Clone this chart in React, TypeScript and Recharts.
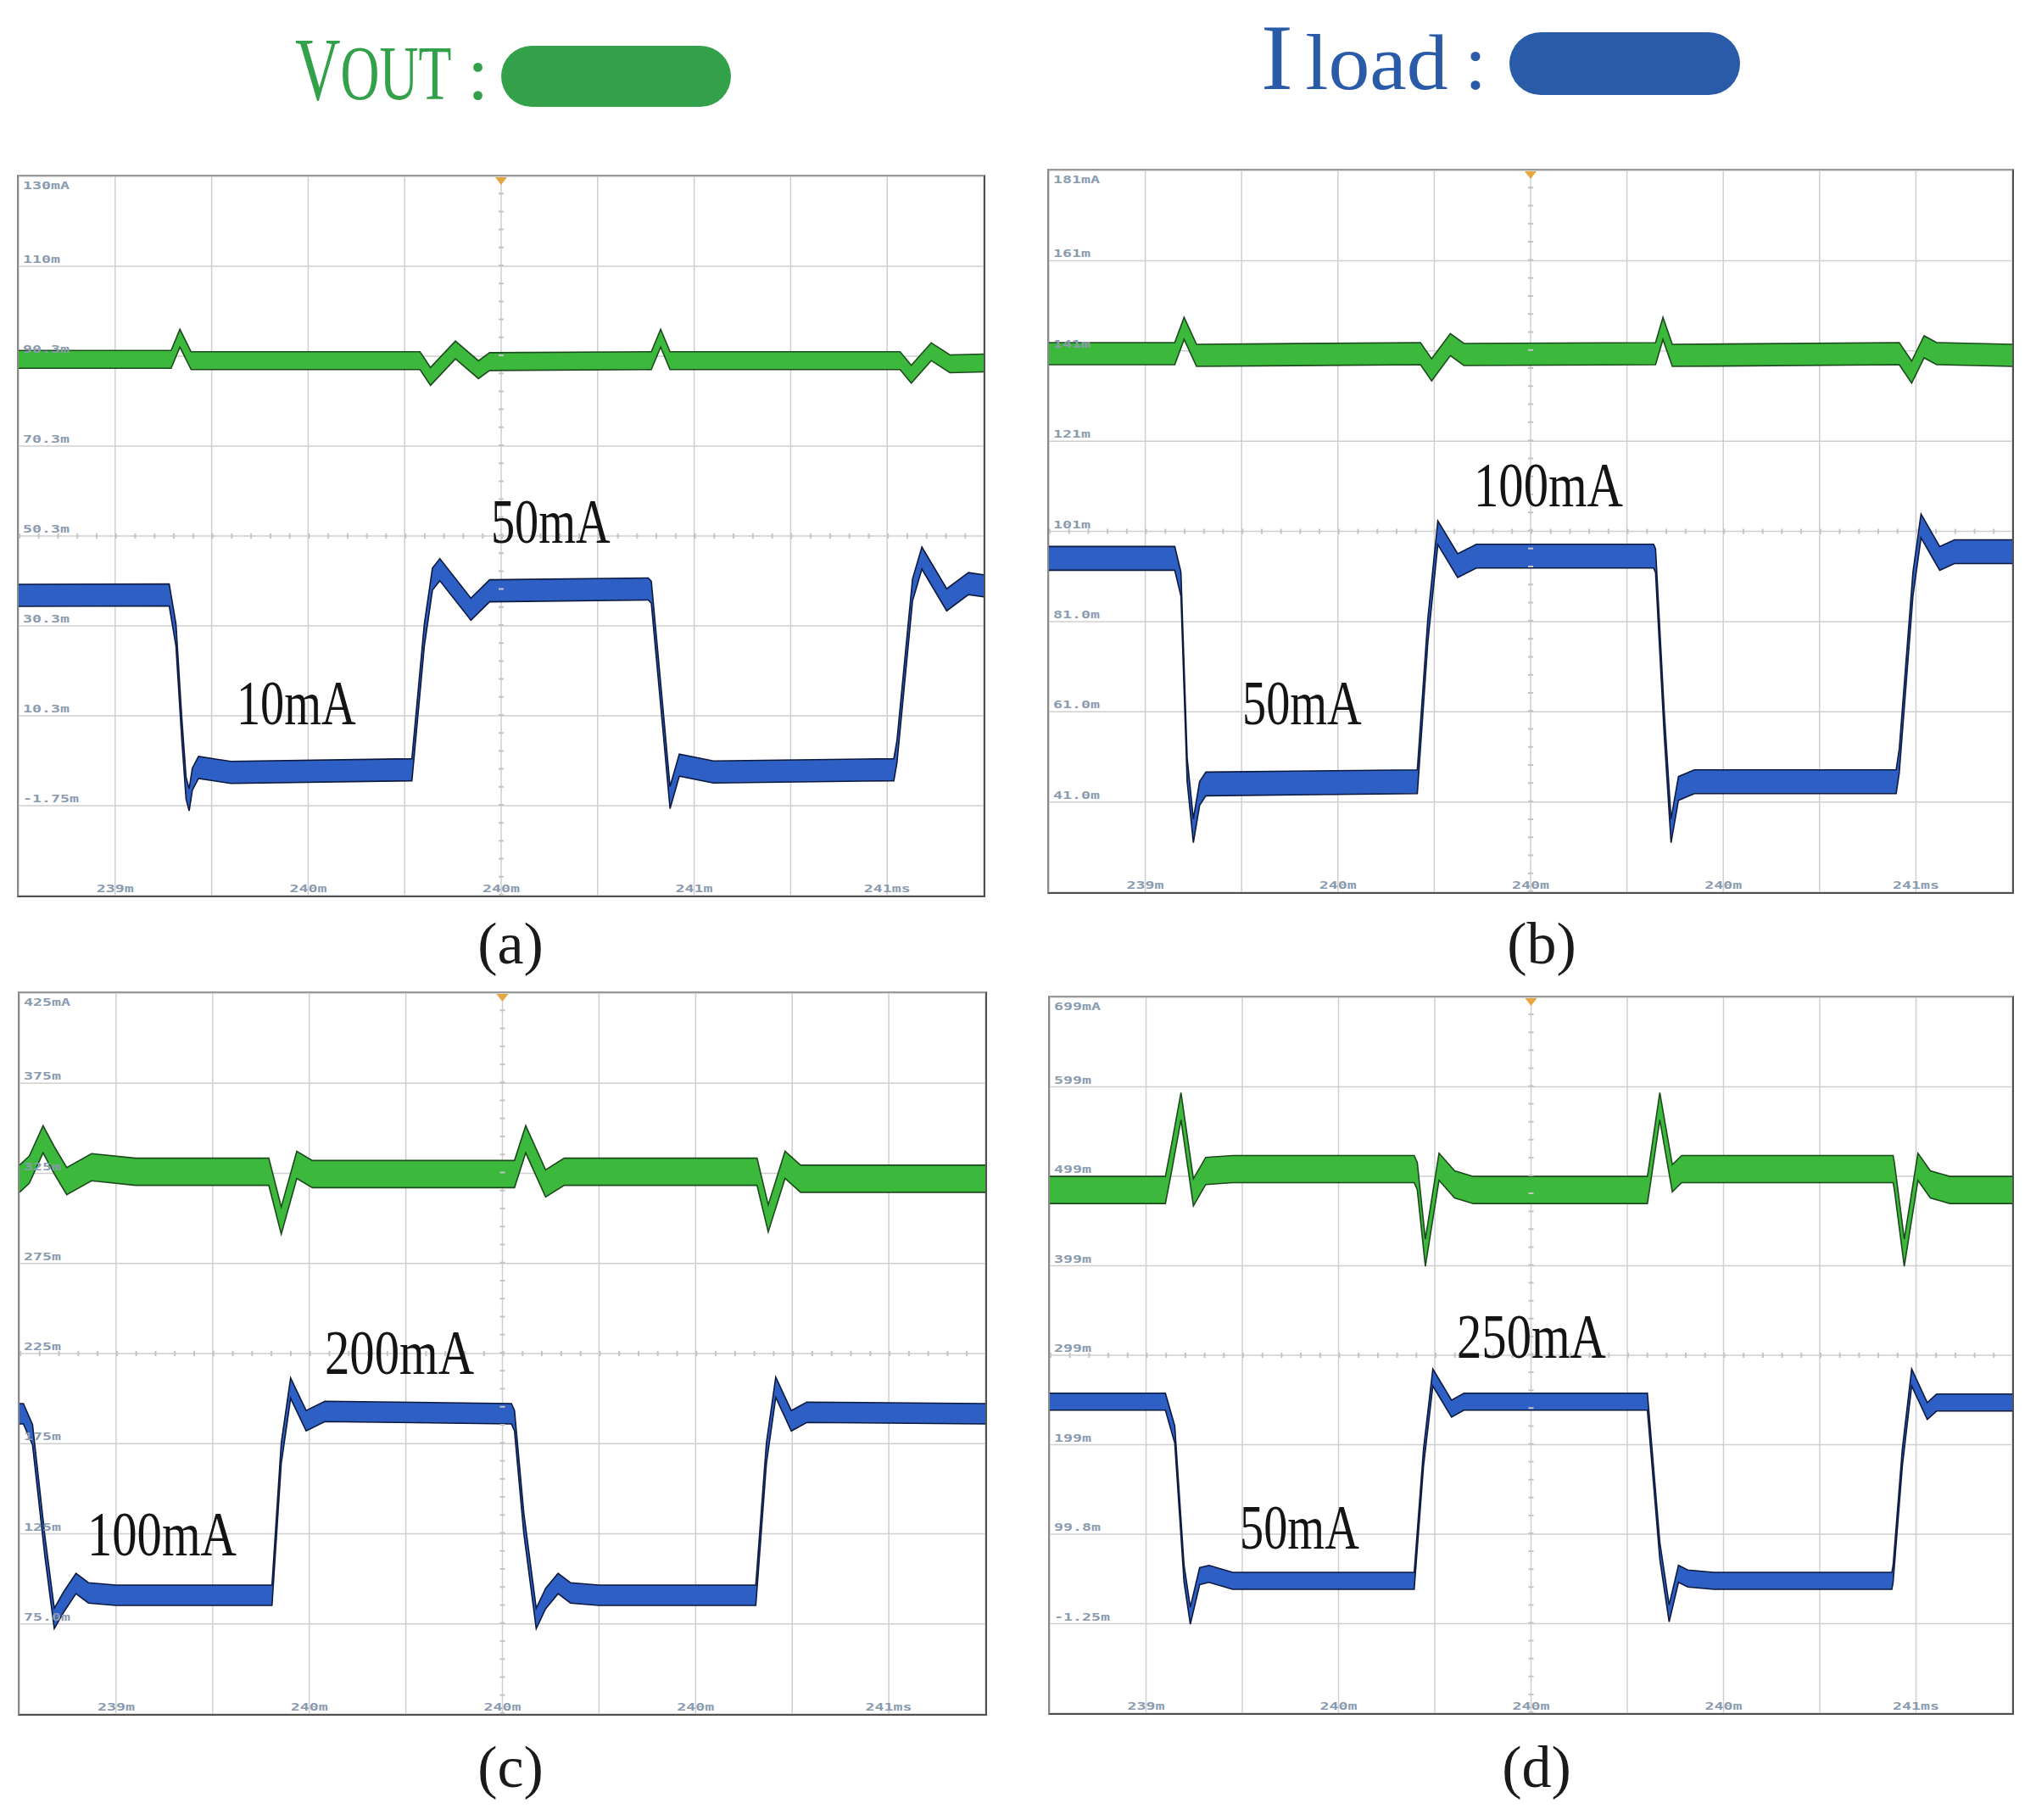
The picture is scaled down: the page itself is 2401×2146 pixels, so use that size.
import React from 'react';
import { ComposedChart, Area, XAxis, YAxis, CartesianGrid, ReferenceLine, ReferenceDot } from 'recharts';

type Pt = [number, number];
type Note = { label: string; t: number; v: number };

// time axis in scope divisions
const xTicks = [0, 1, 2, 3, 4, 5, 6, 7, 8, 9, 10];
const xLabelTicks = [1, 3, 5, 7, 9];

// ---------- Panel (a) ----------
const yTicksA = [130, 110, 90, 70, 50, 30, 10, -10, -30];
const yLabelsA = ['130mA', '110m', '90.3m', '70.3m', '50.3m', '30.3m', '10.3m', '-1.75m'];
const xLabelsA = ['239m', '240m', '240m', '241m', '241ms'];
const voutA: Pt[] = [
  [0, 89.3], [1.58, 89.3], [1.671, 94.0], [1.787, 89.0], [4.159, 89.0], [4.268, 85.5], [4.526, 91.4],
  [4.765, 87.0], [4.88, 88.8], [6.556, 89.0], [6.653, 94.0], [6.75, 89.0], [9.134, 89.0], [9.25, 86.0],
  [9.457, 91.0], [9.65, 88.3], [10, 88.5],
];
const iloadA: Pt[] = [
  [0, 36.8], [1.56, 36.9], [1.63, 28.0], [1.69, 7.3], [1.735, -6.1], [1.767, -8.7], [1.8, -4.1],
  [1.864, -1.5], [2.2, -2.6], [4.075, -2.0], [4.204, 28.0], [4.288, 40.4], [4.365, 42.5], [4.687, 33.7],
  [4.88, 37.8], [6.524, 38.2], [6.556, 37.5], [6.685, 7.3], [6.75, -8.2], [6.846, -1.0], [7.2, -2.5],
  [9.069, -2.0], [9.102, 2.1], [9.263, 38.0], [9.36, 45.1], [9.617, 35.8], [9.843, 39.4], [10, 38.9],
];
const notesA: Note[] = [
  { label: '50mA', t: 4.894, v: 48.5 },
  { label: '10mA', t: 2.258, v: 8.1 },
];

// ---------- Panel (b) ----------
const yTicksB = [181, 161, 141, 121, 101, 81, 61, 41, 21];
const yLabelsB = ['181mA', '161m', '141m', '121m', '101m', '81.0m', '61.0m', '41.0m'];
const xLabelsB = ['239m', '240m', '240m', '240m', '241ms'];
const voutB: Pt[] = [
  [0, 140.4], [1.306, 140.4], [1.403, 146.0], [1.532, 140.0], [3.857, 140.4], [3.973, 136.8],
  [4.167, 142.4], [4.308, 140.2], [6.297, 140.4], [6.374, 146.0], [6.471, 140.0], [8.827, 140.4],
  [8.956, 136.3], [9.085, 141.9], [9.215, 140.4], [10, 140.0],
];
const iloadB: Pt[] = [
  [0, 95.0], [1.306, 95.0], [1.37, 89.3], [1.435, 48.1], [1.499, 34.6], [1.564, 42.9], [1.629, 45.0],
  [3.824, 45.5], [3.933, 79.0], [4.037, 100.7], [4.243, 93.4], [4.437, 95.5], [6.277, 95.5],
  [6.297, 94.5], [6.387, 58.4], [6.458, 34.6], [6.535, 44.0], [6.7, 45.5], [8.795, 45.5], [8.827, 50.1],
  [8.969, 89.3], [9.053, 102.2], [9.247, 95.0], [9.4, 96.5], [10, 96.5],
];
const notesB: Note[] = [
  { label: '100mA', t: 4.41, v: 106.6 },
  { label: '50mA', t: 2.007, v: 58.3 },
];

// ---------- Panel (c) ----------
const yTicksC = [425, 375, 325, 275, 225, 175, 125, 75, 25];
const yLabelsC = ['425mA', '375m', '325m', '275m', '225m', '175m', '125m', '75.0m'];
const xLabelsC = ['239m', '240m', '240m', '240m', '241ms'];
const voutC: Pt[] = [
  [0, 322.0], [0.102, 327.1], [0.244, 343.9], [0.36, 332.3], [0.489, 320.7], [0.746, 328.4], [1.2, 325.9],
  [2.581, 325.9], [2.71, 298.8], [2.871, 329.7], [3.032, 324.6], [5.125, 324.6], [5.241, 343.9],
  [5.447, 319.4], [5.64, 325.9], [7.636, 325.9], [7.752, 300.0], [7.926, 329.7], [8.087, 322.0], [10, 322.0],
];
const iloadC: Pt[] = [
  [0, 191.6], [0.04, 191.6], [0.135, 180.0], [0.263, 118.0], [0.36, 78.0], [0.457, 87.1], [0.585, 97.4],
  [0.714, 92.2], [1.0, 90.9], [2.614, 90.9], [2.71, 169.7], [2.807, 205.8], [2.968, 187.7], [3.161, 192.9],
  [5.093, 191.6], [5.125, 187.7], [5.221, 131.0], [5.35, 78.0], [5.447, 89.0], [5.576, 97.4], [5.704, 92.2],
  [6.0, 90.9], [7.623, 90.9], [7.636, 100.0], [7.733, 169.7], [7.83, 206.3], [7.991, 187.7], [8.151, 192.4],
  [10, 191.6],
];
const notesC: Note[] = [
  { label: '200mA', t: 3.161, v: 213.7 },
  { label: '100mA', t: 0.702, v: 113 },
];

// ---------- Panel (d) ----------
const yTicksD = [699, 599, 499, 399, 299, 199, 99, -1, -101];
const yLabelsD = ['699mA', '599m', '499m', '399m', '299m', '199m', '99.8m', '-1.25m'];
const xLabelsD = ['239m', '240m', '240m', '240m', '241ms'];
const voutD: Pt[] = [
  [0, 483.7], [1.201, 483.7], [1.266, 520.0], [1.363, 577.3], [1.492, 481.1], [1.62, 505.0], [1.9, 507.1],
  [3.786, 507.1], [3.818, 499.3], [3.902, 413.5], [4.044, 509.7], [4.206, 490.0], [4.4, 483.7],
  [6.209, 483.7], [6.228, 496.7], [6.338, 577.3], [6.468, 496.7], [6.565, 507.1], [8.762, 507.1],
  [8.775, 499.3], [8.878, 413.5], [9.02, 509.7], [9.149, 490.0], [9.35, 483.7], [10, 483.7],
];
const iloadD: Pt[] = [
  [0, 247.1], [1.201, 247.1], [1.298, 210.7], [1.395, 54.7], [1.46, 7.9], [1.557, 52.1], [1.654, 54.7],
  [1.9, 46.9], [3.786, 46.9], [3.883, 184.7], [3.98, 274.1], [4.174, 239.3], [4.303, 247.1], [6.209, 247.1],
  [6.338, 80.7], [6.435, 10.5], [6.532, 54.7], [6.629, 49.5], [6.9, 46.9], [8.749, 46.9], [8.762, 54.7],
  [8.858, 184.7], [8.955, 274.1], [9.117, 236.7], [9.214, 246.1], [10, 246.1],
];
const notesD: Note[] = [
  { label: '250mA', t: 4.229, v: 296.2 },
  { label: '50mA', t: 1.974, v: 82.9 },
];

const GREEN = '#3cb83c';
const GREEN_EDGE = '#1d4a1d';
const BLUE = '#2d5fc4';
const BLUE_EDGE = '#0c1a3e';
const SERIF = "'Liberation Serif', 'DejaVu Serif', serif";
const TICKFONT = "'DejaVu Sans Mono', 'Liberation Mono', monospace";

type PanelProps = {
  left: number; top: number; width: number; height: number;
  yTicks: number[]; yLabels: string[]; xLabels: string[];
  vout: Pt[]; iload: Pt[]; notes: Note[];
  gBand: number; bBand: number;
};

function ScopePanel(p: PanelProps) {
  const { left, top, width, height, yTicks, yLabels, xLabels, vout, iload, notes, gBand, bBand } = p;
  const topV = yTicks[0];
  const botV = yTicks[yTicks.length - 1];
  const upp = (topV - botV) / height;
  const gData = vout.map(([t, v]) => ({ t, band: [v - (gBand * upp) / 2, v + (gBand * upp) / 2] }));
  const bData = iload.map(([t, v]) => ({ t, band: [v - (bBand * upp) / 2, v + (bBand * upp) / 2] }));
  const centerV = yTicks[4];
  const hDash = `2 ${width / 50 - 2}`;
  const vDash = `2 ${height / 40 - 2}`;

  const yTick = (tp: any) => {
    const i = yTicks.indexOf(tp.payload.value);
    if (i < 0 || i >= yLabels.length) return <g />;
    const y = i === 0 ? tp.y + 15 : tp.y - 4;
    const s = yLabels[i];
    return (
      <text x={5} y={y} fontFamily={TICKFONT} fontSize={12} fontWeight="bold" fill="#8a9bb0"
        textLength={s.length * 11} lengthAdjust="spacingAndGlyphs">{s}</text>
    );
  };
  const xTick = (tp: any) => {
    const i = xLabelTicks.indexOf(tp.payload.value);
    if (i < 0) return <g />;
    const s = xLabels[i];
    return (
      <text x={tp.x} y={height - 4} textAnchor="middle" fontFamily={TICKFONT} fontSize={12} fontWeight="bold"
        fill="#8a9bb0" textLength={s.length * 11} lengthAdjust="spacingAndGlyphs">{s}</text>
    );
  };

  return (
    <div style={{
      position: 'absolute', left: left - 2, top: top - 2, width, height,
      borderStyle: 'solid', borderWidth: 2, borderColor: '#9a9a9a #505050 #505050 #8a8a8a', background: '#fff',
    }}>
      <ComposedChart width={width} height={height} margin={{ top: 0, right: 0, bottom: 0, left: 0 }}>
        <CartesianGrid stroke="#cfcfcf" strokeWidth={1.5} />
        <XAxis type="number" dataKey="t" domain={[0, 10]} ticks={xTicks} interval={0} mirror
          axisLine={false} tickLine={false} tick={xTick} allowDataOverflow />
        <YAxis type="number" domain={[botV, topV]} ticks={yTicks} interval={0} mirror
          axisLine={false} tickLine={false} tick={yTick} allowDataOverflow />
        <ReferenceLine y={centerV} stroke="#c4c4c4" strokeWidth={6} strokeDasharray={hDash} />
        <ReferenceLine x={5} stroke="#c4c4c4" strokeWidth={6} strokeDasharray={vDash} />
        <Area data={gData} dataKey="band" type="linear" fill={GREEN} fillOpacity={1} stroke={GREEN_EDGE}
          strokeWidth={1.6} dot={false} activeDot={false} isAnimationActive={false} />
        <Area data={bData} dataKey="band" type="linear" fill={BLUE} fillOpacity={1} stroke={BLUE_EDGE}
          strokeWidth={1.6} dot={false} activeDot={false} isAnimationActive={false} />
        {notes.map((n) => (
          <ReferenceDot key={n.label + n.t} x={n.t} y={n.v} r={0} ifOverflow="visible"
            shape={(sp: any) => (
              <text x={sp.cx} y={sp.cy} fontFamily={SERIF} fontSize={74} fill="#141414"
                textLength={n.label.length * 35.2} lengthAdjust="spacingAndGlyphs">{n.label}</text>
            )} />
        ))}
        <ReferenceDot x={5} y={topV} r={0} ifOverflow="visible"
          shape={(sp: any) => (
            <path d={`M${sp.cx - 7},${sp.cy + 1} L${sp.cx + 7},${sp.cy + 1} L${sp.cx},${sp.cy + 10} Z`} fill="#e8a640" />
          )} />
      </ComposedChart>
    </div>
  );
}

function Legend() {
  return (
    <svg width={2401} height={160} style={{ position: 'absolute', left: 0, top: 0 }}>
      <g transform="translate(348,117) scale(0.70,1)">
        <text x={0} y={0} fontFamily={SERIF} fill="#33a04a">
          <tspan fontSize={106}>V</tspan>
          <tspan fontSize={91}>OUT</tspan>
        </text>
      </g>
      <text x={551} y={117} fontFamily={SERIF} fontSize={91} fill="#33a04a">:</text>
      <rect x={591} y={54} width={271} height={72} rx={36} fill="#33a04a" />
      <g transform="translate(1487,105) scale(1.04,1)">
        <text x={0} y={0} fontFamily={SERIF} fill="#2a5ba8">
          <tspan fontSize={109}>I</tspan>
          <tspan fontSize={94} dx={14}>load</tspan>
        </text>
      </g>
      <text x={1727} y={105} fontFamily={SERIF} fontSize={94} fill="#2a5ba8">:</text>
      <rect x={1780} y={38} width={272} height={74} rx={37} fill="#2a5ba8" />
    </svg>
  );
}

function Captions() {
  const items = [
    { s: '(a)', x: 602, y: 1136 },
    { s: '(b)', x: 1818, y: 1136 },
    { s: '(c)', x: 602, y: 2107 },
    { s: '(d)', x: 1812, y: 2107 },
  ];
  return (
    <svg width={2401} height={2146} style={{ position: 'absolute', left: 0, top: 0, pointerEvents: 'none' }}>
      {items.map((it) => (
        <text key={it.s} x={it.x} y={it.y} textAnchor="middle" fontFamily={SERIF} fontSize={70} fill="#1a1a1a">{it.s}</text>
      ))}
    </svg>
  );
}

export default function App() {
  return (
    <div style={{ position: 'absolute', left: 0, top: 0, width: 2401, height: 2146, background: '#fff', overflow: 'hidden' }}>
      <Captions />
      <Legend />
      <ScopePanel left={22} top={208} width={1138} height={848} yTicks={yTicksA} yLabels={yLabelsA} xLabels={xLabelsA}
        vout={voutA} iload={iloadA} notes={notesA} gBand={21} bBand={26} />
      <ScopePanel left={1237} top={201} width={1136} height={851} yTicks={yTicksB} yLabels={yLabelsB} xLabels={xLabelsB}
        vout={voutB} iload={iloadB} notes={notesB} gBand={26} bBand={28} />
      <ScopePanel left={23} top={1171} width={1139} height={850} yTicks={yTicksC} yLabels={yLabelsC} xLabels={xLabelsC}
        vout={voutC} iload={iloadC} notes={notesC} gBand={32} bBand={24} />
      <ScopePanel left={1238} top={1176} width={1135} height={844} yTicks={yTicksD} yLabels={yLabelsD} xLabels={xLabelsD}
        vout={voutD} iload={iloadD} notes={notesD} gBand={32} bBand={20} />
    </div>
  );
}
